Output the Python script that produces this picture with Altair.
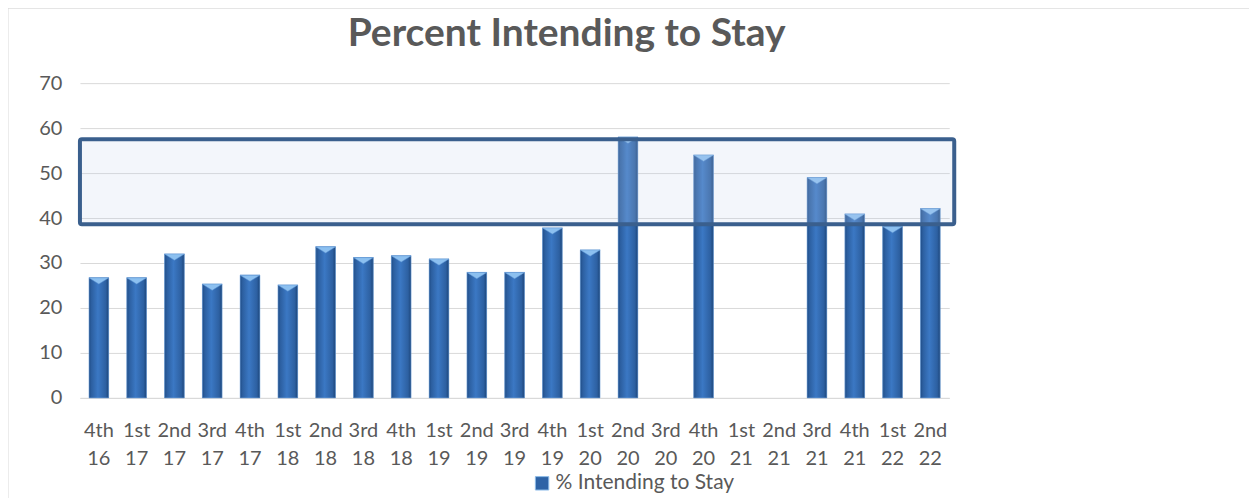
import altair as alt
import pandas as pd

# ---- data ----
quarters = ["4th 16", "1st 17", "2nd 17", "3rd 17", "4th 17", "1st 18", "2nd 18",
            "3rd 18", "4th 18", "1st 19", "2nd 19", "3rd 19", "4th 19", "1st 20",
            "2nd 20", "3rd 20", "4th 20", "1st 21", "2nd 21", "3rd 21", "4th 21",
            "1st 22", "2nd 22"]
pct_stay = [26.7, 26.7, 32.0, 25.3, 27.3, 25.1, 33.6, 31.2, 31.6, 30.9, 27.9, 27.9,
            37.8, 32.9, 58.0, None, 54.0, None, None, 49.0, 40.9, 38.1, 42.1]
series_name = "% Intending to Stay"
y_ticks = [0, 10, 20, 30, 40, 50, 60, 70]
highlight_low = 38.6
highlight_high = 57.5

df = pd.DataFrame({"quarter": quarters, "value": pct_stay, "series": series_name})

TEXT = "#595959"
FONT = "Lato"

x_enc = alt.X("quarter:N", sort=quarters,
              scale=alt.Scale(paddingInner=0.48, paddingOuter=0.24),
              axis=alt.Axis(title=None, labelAngle=0, ticks=False, domain=True,
                            domainColor="#d9d9d9", grid=False,
                            labelExpr="split(datum.label, ' ')",
                            labelFontSize=20, labelColor=TEXT, labelFont=FONT,
                            labelLineHeight=28, labelPadding=23,
                            labelBaseline="top"))
y_enc = alt.Y("value:Q", scale=alt.Scale(domain=[0, 70], nice=False),
              axis=alt.Axis(title=None, values=y_ticks, ticks=False, domain=False,
                            gridColor="#d9d9d9", labelFontSize=20, labelColor=TEXT,
                            labelFont=FONT, labelPadding=18))

base = alt.Chart(df)

# outer chart frame (decoration)
frame = alt.Chart(pd.DataFrame({"a": [0]})).mark_rect(
    fillOpacity=0, stroke="#d9d9d9", strokeWidth=1
).encode(x=alt.value(-72), x2=alt.value(1172), y=alt.value(-75), y2=alt.value(430))

bars_legend = base.mark_bar().encode(
    x=x_enc, y=y_enc,
    color=alt.Color("series:N", scale=alt.Scale(range=["#2e63a6"]),
                    legend=alt.Legend(title=None, orient="none", legendX=452, legendY=390,
                                      symbolType="square", symbolSize=180,
                                      symbolStrokeColor="#8dbbe8", symbolStrokeWidth=1,
                                      labelFontSize=21, labelColor=TEXT, labelFont=FONT,
                                      labelOffset=3, labelLimit=400)),
)

bar_gradient = alt.Gradient(
    gradient="linear", x1=0, x2=1, y1=0, y2=0,
    stops=[alt.GradientStop(offset=0, color="#1f4c86"),
           alt.GradientStop(offset=0.12, color="#2c5fa0"),
           alt.GradientStop(offset=0.45, color="#3b78c4"),
           alt.GradientStop(offset=0.85, color="#2d60a1"),
           alt.GradientStop(offset=1, color="#1c4579")])

bars = base.mark_bar(fill=bar_gradient, stroke="#6f9fd6", strokeWidth=0.6).encode(
    x=alt.X("quarter:N", sort=quarters), y=alt.Y("value:Q"))

tops = base.mark_point(
    shape="M-1,0 L1,0 L0,0.62 Z", filled=True, fill="#8cc0f0", opacity=1, size=400,
    stroke="#5d93d2", strokeWidth=0.5
).encode(x=alt.X("quarter:N", sort=quarters), y=alt.Y("value:Q"))

overlay = alt.Chart(pd.DataFrame({"lo": [highlight_low], "hi": [highlight_high]})).mark_rect(
    fill="#c3d2eb", fillOpacity=0.2, stroke="#3a5f8d", strokeWidth=4, cornerRadius=2
).encode(x=alt.value(0), x2=alt.value(875), y=alt.Y("hi:Q"), y2=alt.Y2("lo:Q"))

chart = alt.layer(frame, bars_legend, bars, tops, overlay).properties(
    width=870, height=315,
    title=alt.TitleParams("Percent Intending to Stay", fontSize=39, font=FONT,
                          fontWeight="bold", color=TEXT, anchor="middle", frame="group",
                          dx=52, baseline="alphabetic", offset=-77),
    autosize=alt.AutoSizeParams(type="none"),
    padding={"left": 72, "top": 75, "right": 300, "bottom": 100},
    background="white",
).configure_view(stroke=None)

chart.save("out.html", embed_options={"renderer": "svg", "actions": False})
